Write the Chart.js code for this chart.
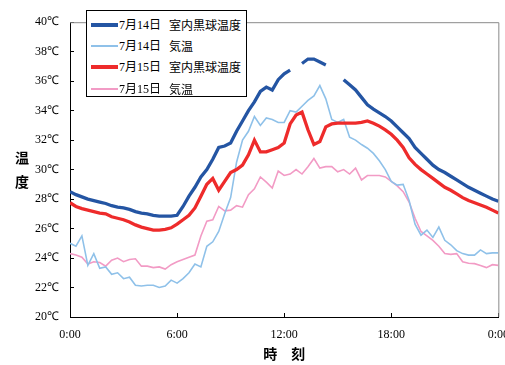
<!DOCTYPE html>
<html>
<head>
<meta charset="utf-8">
<script src="https://cdn.jsdelivr.net/npm/chart.js@4.4.1/dist/chart.umd.min.js"></script>
<style>
  html, body { margin: 0; padding: 0; background: #fff; overflow: hidden; width: 505px; height: 365px; }
  #wrap { position: relative; width: 505px; height: 365px; overflow: hidden; }
  canvas { position: absolute; left: 0; top: 0; }
  #legend { position: absolute; left: 86px; top: 10px; width: 159px; height: 85px; border: 1px solid #000; background: #fff;
            font-family: 'Liberation Serif', 'Noto Sans CJK JP', serif; font-size: 12px; color: #000; }
  .row { position: absolute; left: 0; width: 100%; height: 20px; line-height: 20px; white-space: nowrap; }
  .swatch { position: absolute; left: 4px; width: 27px; }
  .date { position: absolute; left: 32px; }
  .name { position: absolute; left: 82px; font-family: 'Noto Sans CJK JP', sans-serif; }
</style>
</head>
<body>
<div id="wrap">
  <canvas id="chart" width="524" height="365"></canvas>
  <div id="legend"></div>
</div>
<script>
// sampled every 20 minutes, 0:00 .. 24:00
const times = Array.from({ length: 73 }, (_, i) => i * 20);

const dates = ['7月14日', '7月14日', '7月15日', '7月15日'];
const names = ['室内黒球温度', '気温', '室内黒球温度', '気温'];
const colors = ['#2455a3', '#8fc1e9', '#ee2b2b', '#f29bc5'];
const widths = [3.3, 1.6, 3.3, 1.6];

const globe14 = [
  28.5, 28.3, 28.15, 28.0, 27.9, 27.8, 27.7, 27.55, 27.45, 27.4, 27.3, 27.15,
  27.05, 27.0, 26.9, 26.85, 26.85, 26.85, 26.9, 27.5, 28.2, 28.8, 29.5, 30.0,
  30.7, 31.5, 31.6, 31.8, 32.6, 33.3, 34.0, 34.6, 35.3, 35.6, 35.4, 36.1,
  36.5, 36.75, null, 37.2, 37.5, 37.5, 37.3, 37.1, null, null, 36.1, 35.75,
  35.4, 34.9, 34.4, 34.1, 33.85, 33.6, 33.3, 32.9, 32.5, 32.1, 31.5, 31.1,
  30.7, 30.3, 30.0, 29.8, 29.55, 29.3, 29.05, 28.8, 28.6, 28.4, 28.2, 28.0,
  27.85
];
const air14 = [
  25.0, 24.8, 25.5, 23.5, 24.3, 23.3, 23.4, 22.9, 23.0, 22.6, 22.7, 22.15,
  22.1, 22.15, 22.15, 22.0, 22.1, 22.5, 22.3, 22.6, 23.0, 23.6, 23.4, 24.8,
  25.1, 25.8, 27.0, 28.1, 30.5, 32.0, 32.6, 33.6, 33.0, 33.5, 33.4, 33.2,
  33.2, 34.0, 33.9, 34.3, 34.7, 35.0, 35.7, 34.8, 33.4, 33.2, 33.4, 32.2,
  32.0, 31.7, 31.45, 31.1, 30.6, 30.0, 29.2, 28.95, 29.0, 27.9, 26.3, 25.55,
  25.9, 25.4, 26.1, 25.2, 24.9, 24.5, 24.3, 24.2, 24.2, 24.55, 24.3, 24.35,
  24.35
];
const globe15 = [
  27.75, 27.5, 27.35, 27.25, 27.15, 27.05, 27.0, 26.8, 26.7, 26.6, 26.45, 26.25,
  26.1, 26.0, 25.9, 25.9, 25.95, 26.05, 26.3, 26.6, 26.9, 27.4, 28.2, 29.0,
  29.4, 28.6, 29.2, 29.8, 30.0, 30.3, 31.0, 32.0, 31.2, 31.2, 31.35, 31.5,
  31.8, 33.1, 33.7, 33.9, 32.7, 31.7, 31.9, 32.9, 33.1, 33.15, 33.15, 33.15,
  33.15, 33.2, 33.3, 33.15, 32.95, 32.7, 32.4, 32.0, 31.5, 30.8, 30.35, 30.0,
  29.7, 29.4, 29.1, 28.8, 28.6, 28.35, 28.1, 27.9, 27.75, 27.6, 27.45, 27.25,
  27.05
];
const air15 = [
  24.3, 24.2, 24.05, 23.6, 23.75, 23.7, 23.45, 23.85, 24.0, 23.75, 23.9, 23.95,
  23.45, 23.45, 23.35, 23.4, 23.25, 23.55, 23.75, 23.9, 24.05, 24.2, 25.5, 26.5,
  26.6, 27.5, 27.2, 27.25, 27.55, 27.45, 28.3, 28.7, 29.5, 29.15, 28.75, 29.9,
  29.6, 29.7, 30.0, 29.7, 30.2, 30.75, 30.1, 30.2, 30.2, 29.85, 30.0, 29.7,
  30.1, 29.3, 29.6, 29.6, 29.6, 29.5, 29.2, 28.9, 28.5, 27.8, 26.7, 25.8,
  25.5, 25.2, 24.8, 24.3, 24.25, 24.3, 23.75, 23.65, 23.62, 23.5, 23.35, 23.55,
  23.5
];
const series = [globe14, air14, globe15, air15];

const pts = arr => arr.map((v, i) => ({ x: times[i], y: v }));

// gray top and right frame
const frame = {
  id: 'frame',
  beforeDatasetsDraw(chart) {
    const { ctx, chartArea: a } = chart;
    ctx.save();
    ctx.strokeStyle = '#8a8a8a';
    ctx.lineWidth = 1;
    ctx.beginPath();
    ctx.moveTo(a.left, a.top + 0.5);
    ctx.lineTo(a.right + 0.5, a.top + 0.5);
    ctx.lineTo(a.right + 0.5, a.bottom);
    ctx.stroke();
    ctx.restore();
  }
};

// upright stacked y title
const yTitle = {
  id: 'yTitle',
  afterDraw(chart) {
    const { ctx, chartArea: a } = chart;
    const cy = (a.top + a.bottom) / 2;
    ctx.save();
    ctx.font = 'bold 14px "Noto Sans CJK JP"';
    ctx.fillStyle = '#000';
    ctx.textAlign = 'center';
    ctx.textBaseline = 'middle';
    ctx.fillText('温', 22, cy - 12);
    ctx.fillText('度', 22, cy + 12);
    ctx.restore();
  }
};

const chart = new Chart(document.getElementById('chart'), {
  type: 'line',
  data: {
    datasets: series.map((s, i) => ({
      label: dates[i] + '　' + names[i],
      data: pts(s),
      borderColor: colors[i],
      backgroundColor: colors[i],
      borderWidth: widths[i],
      pointRadius: 0,
      tension: 0,
      spanGaps: false,
      order: [1, 3, 2, 4][i]
    }))
  },
  options: {
    responsive: false,
    animation: false,
    layout: { padding: { top: 22, right: 22, left: 0, bottom: 0 } },
    plugins: { legend: { display: false }, tooltip: { enabled: false } },
    scales: {
      x: {
        type: 'linear',
        min: 0,
        max: 1440,
        afterFit(s) { s.height = 48; },
        ticks: {
          stepSize: 360,
          color: '#000',
          padding: 15,
          font: { family: 'Liberation Serif', size: 12 },
          callback: v => (v / 60) % 24 + ':00'
        },
        grid: { drawOnChartArea: false, tickLength: -4, color: '#000' },
        border: { color: '#000', width: 1 },
        title: {
          display: true,
          text: '時　刻',
          color: '#000',
          font: { family: 'Noto Sans CJK JP', size: 14, weight: 'bold' },
          padding: { top: 0, bottom: 3 }
        }
      },
      y: {
        min: 20,
        max: 40,
        afterFit(s) { s.width = 70; },
        ticks: {
          stepSize: 2,
          color: '#000',
          padding: 15,
          font: { family: 'Liberation Serif', size: 12 },
          callback: v => v + '℃'
        },
        grid: { drawOnChartArea: false, tickLength: -4, color: '#000' },
        border: { color: '#000', width: 1 }
      }
    }
  },
  plugins: [frame, yTitle]
});

// boxed legend inside the plot
const legend = document.getElementById('legend');
chart.data.datasets.forEach((ds, i) => {
  const row = document.createElement('div');
  row.className = 'row';
  row.style.top = (4 + i * 21.2) + 'px';
  const h = ds.borderWidth > 2 ? 4 : 2;
  row.innerHTML =
    '<span class="swatch" style="background:' + ds.borderColor + ';height:' + h + 'px;top:' + (10 - h / 2) + 'px"></span>' +
    '<span class="date">' + dates[i] + '</span>' +
    '<span class="name">' + names[i] + '</span>';
  legend.appendChild(row);
});
</script>
</body>
</html>
